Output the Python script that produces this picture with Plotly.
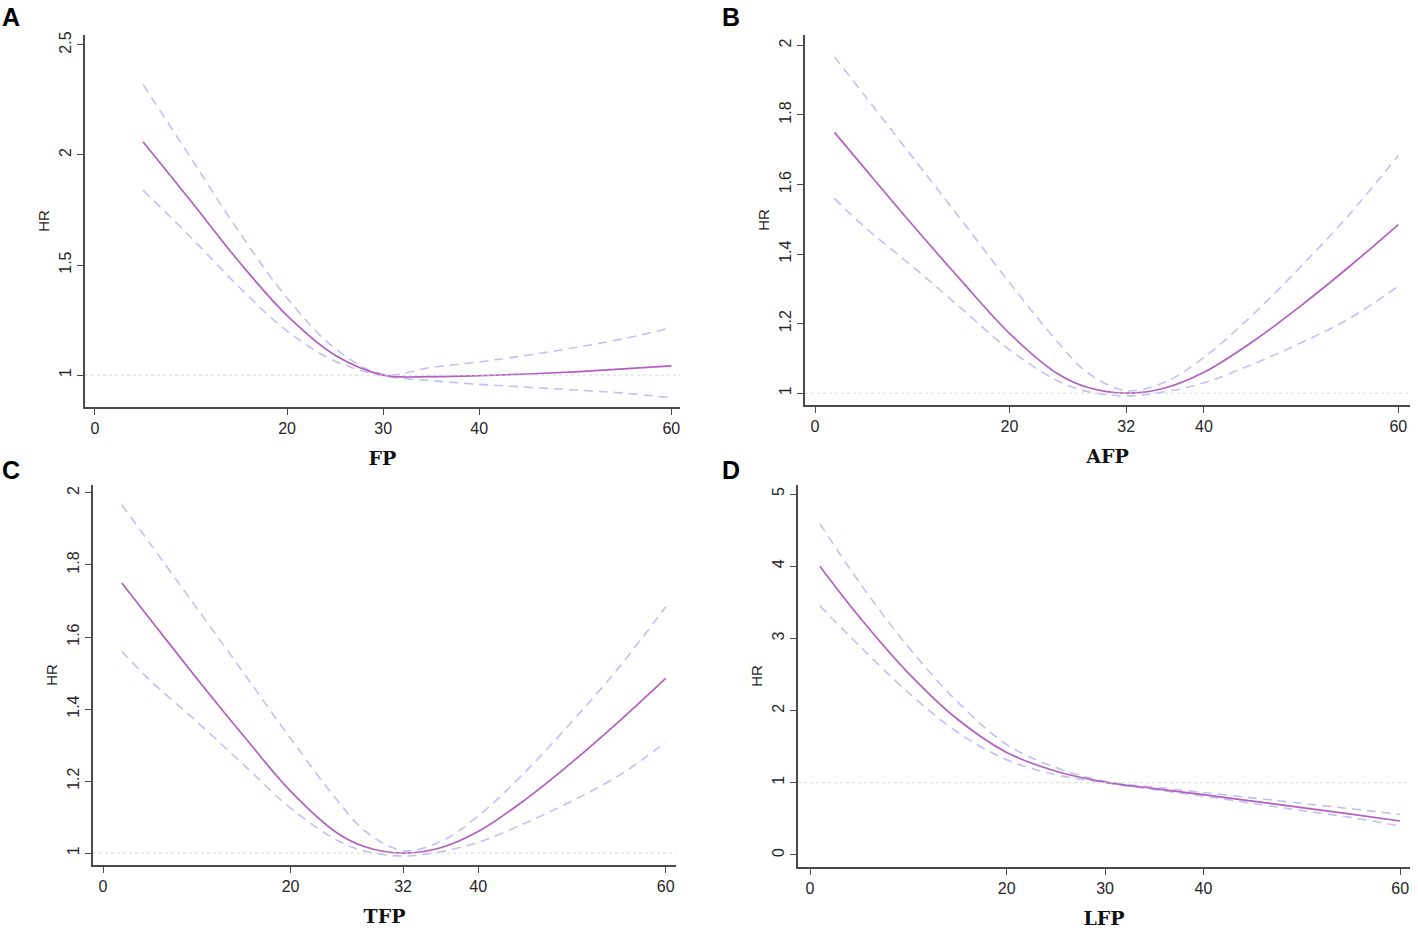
import plotly.graph_objects as go
from plotly.subplots import make_subplots

# panel A - FP
fp_x = [5, 10, 15, 20, 25, 30, 35, 40, 45, 50, 55, 60]
fp_hr = [2.06, 1.79, 1.515, 1.27, 1.09, 1.0, 0.993, 0.997, 1.005, 1.015, 1.028, 1.042]
fp_hi = [2.32, 1.985, 1.65, 1.35, 1.12, 1.003, 1.035, 1.06, 1.09, 1.125, 1.165, 1.215]
fp_lo = [1.84, 1.625, 1.40, 1.20, 1.063, 0.997, 0.975, 0.958, 0.945, 0.932, 0.918, 0.897]

# panel B - AFP (panel C - TFP shows the same curve)
afp_x = [2, 5, 10, 15, 20, 25, 28, 32, 36, 40, 45, 50, 55, 60]
afp_hr = [1.75, 1.65, 1.485, 1.325, 1.172, 1.055, 1.017, 1.0, 1.015, 1.06, 1.148, 1.252, 1.365, 1.485]
afp_hi = [1.967, 1.86, 1.68, 1.50, 1.318, 1.146, 1.06, 1.007, 1.032, 1.103, 1.225, 1.365, 1.515, 1.684]
afp_lo = [1.56, 1.48, 1.365, 1.245, 1.125, 1.035, 1.005, 0.992, 1.004, 1.03, 1.083, 1.145, 1.215, 1.308]

tfp_x = afp_x
tfp_hr = afp_hr
tfp_hi = afp_hi
tfp_lo = afp_lo

# panel D - LFP
lfp_x = [1, 5, 10, 15, 20, 25, 30, 35, 40, 45, 50, 55, 60]
lfp_hr = [4.0, 3.3, 2.52, 1.88, 1.42, 1.16, 1.01, 0.92, 0.835, 0.745, 0.655, 0.565, 0.47]
lfp_hi = [4.59, 3.78, 2.88, 2.12, 1.53, 1.21, 1.02, 0.94, 0.865, 0.79, 0.715, 0.64, 0.56]
lfp_lo = [3.45, 2.90, 2.25, 1.70, 1.32, 1.11, 1.0, 0.905, 0.815, 0.715, 0.615, 0.52, 0.40]

xticks_ad = [0, 20, 30, 40, 60]
xticks_bc = [0, 20, 32, 40, 60]

panels = [
    # letter, title, x, hr, hi, lo, xticks, yticks, xrange, yrange, row, col
    ('A', 'FP', fp_x, fp_hr, fp_hi, fp_lo, xticks_ad, [1, 1.5, 2, 2.5], [-1.04, 60.9], [0.855, 2.545], 1, 1),
    ('B', 'AFP', afp_x, afp_hr, afp_hi, afp_lo, xticks_bc, [1, 1.2, 1.4, 1.6, 1.8, 2], [-1.03, 61.2], [0.966, 2.03], 1, 2),
    ('C', 'TFP', tfp_x, tfp_hr, tfp_hi, tfp_lo, xticks_bc, [1, 1.2, 1.4, 1.6, 1.8, 2], [-1.07, 61.1], [0.967, 2.022], 2, 1),
    ('D', 'LFP', lfp_x, lfp_hr, lfp_hi, lfp_lo, xticks_ad, [0, 1, 2, 3, 4, 5], [-1.22, 61.0], [-0.167, 5.125], 2, 2),
]

# plot areas in pixels (left, right, top, bottom) on the 1418x931 page
W, H = 1418, 931
boxes = {'A': (85, 680, 35, 407), 'B': (805, 1410, 35, 405),
         'C': (93, 676, 485, 865), 'D': (798, 1410, 485, 867)}
letters = {'A': (11, 17), 'B': (731, 17), 'C': (11, 470), 'D': (731, 470)}

SOLID = '#b35fc2'
DASH = '#c4c0f2'
AXIS = '#4a4a4a'

fig = make_subplots(rows=2, cols=2)

for i, (let, ttl, x, hr, hi, lo, xt, yt, xr, yr, r, c) in enumerate(panels):
    for ys in (hi, lo):
        fig.add_trace(go.Scatter(x=x, y=ys, mode='lines', line_shape='spline',
                                 line=dict(color=DASH, width=1.6, dash='9px,6px'),
                                 showlegend=False, hoverinfo='skip'), row=r, col=c)
    fig.add_trace(go.Scatter(x=x, y=hr, mode='lines', line_shape='spline',
                             line=dict(color=SOLID, width=1.7),
                             showlegend=False), row=r, col=c)
    fig.add_hline(y=1, line=dict(color='#d6d6d6', width=1, dash='dot'), row=r, col=c)

    l, rgt, t, b = boxes[let]
    n = '' if i == 0 else str(i + 1)
    fig.layout['xaxis' + n].update(
        domain=[l / W, rgt / W], range=xr, tickvals=xt, automargin=False,
        showline=True, linecolor=AXIS, linewidth=1.5, ticks='outside', ticklen=6,
        tickcolor=AXIS, tickwidth=1.3, showgrid=False, zeroline=False,
        tickfont=dict(family='Liberation Sans, Arial', size=16, color='#262626'),
        title=dict(text='<b>' + ttl + '</b>', standoff=16,
                   font=dict(family='DejaVu Serif, serif', size=19, color='#111')))
    fig.layout['yaxis' + n].update(
        domain=[1 - b / H, 1 - t / H], range=yr, tickvals=yt, tickangle=-90,
        automargin=False,
        showline=True, linecolor=AXIS, linewidth=1.5, ticks='outside', ticklen=6,
        tickcolor=AXIS, tickwidth=1.3, showgrid=False, zeroline=False,
        tickfont=dict(family='Liberation Sans, Arial', size=16, color='#262626'),
        title=dict(text='HR', standoff=4,
                   font=dict(family='Liberation Sans, Arial', size=15, color='#262626')))

    lx, ly = letters[let]
    fig.add_annotation(xref='paper', yref='paper', x=lx / W, y=1 - ly / H,
                       xanchor='center', yanchor='middle', showarrow=False,
                       text='<b>' + let + '</b>',
                       font=dict(family='Liberation Sans, Arial', size=25, color='black'))

fig.update_layout(width=W, height=H, margin=dict(l=0, r=0, t=0, b=0),
                  plot_bgcolor='white', paper_bgcolor='white')

# drop the browser's default body margin so the figure sits at the page corner
fig.write_html("out.html", config={'displayModeBar': False},
               post_script="document.body.style.margin='0px';")
